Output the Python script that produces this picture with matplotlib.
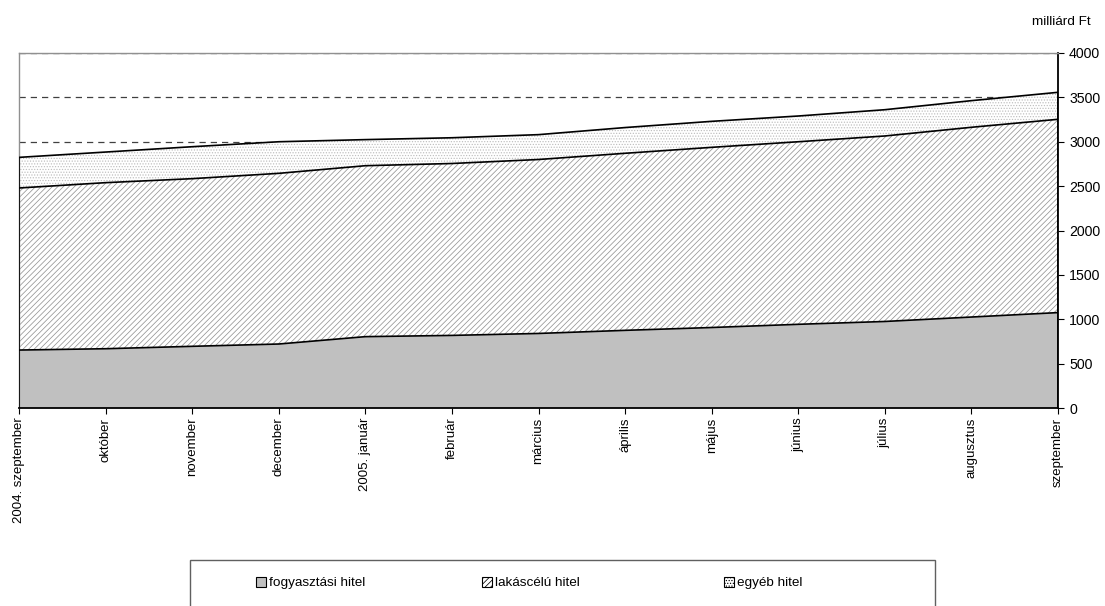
import numpy as np
import matplotlib
matplotlib.use("Agg")
import matplotlib.pyplot as plt
from matplotlib.patches import Rectangle, Patch

plt.rcParams['font.family'] = ['Liberation Sans', 'DejaVu Sans']
plt.rcParams['hatch.linewidth'] = 0.55

months = ["2004. szeptember", "október", "november", "december", "2005. január",
          "február", "március", "április", "május", "június", "július",
          "augusztus", "szeptember"]
# milliárd Ft (stacked)
fogyasztasi = [653, 668, 695, 721, 804, 818, 840, 875, 907, 943, 975, 1025, 1075]
lakascelu = [1826, 1871, 1889, 1923, 1926, 1937, 1960, 1995, 2030, 2057, 2090, 2138, 2178]
egyeb = [345, 345, 360, 356, 294, 290, 280, 290, 293, 290, 296, 300, 304]

x = np.arange(len(months))
c1 = np.array(fogyasztasi)
c2 = c1 + np.array(lakascelu)
c3 = c2 + np.array(egyeb)

HATCH_COL = "#959595"
DOT_COL = "#BEBEBE"

fig = plt.figure(figsize=(11.05, 6.06), dpi=100)
ax = fig.add_axes([19/1105, 1-408/606, (1058-19)/1105, (408-53)/606])

ax.fill_between(x, 0, c1, facecolor="#C0C0C0", linewidth=0, zorder=1)
ax.fill_between(x, c1, c2, facecolor="white", edgecolor=HATCH_COL, hatch="//////",
                linewidth=0, zorder=1)
ax.fill_between(x, c2, c3, facecolor="white", edgecolor=DOT_COL, hatch="......",
                linewidth=0, zorder=1)
for c in (c1, c2, c3):
    ax.plot(x, c, color="black", lw=1.2, zorder=3)
ax.vlines([x[0], x[-1]], 0, [c3[0], c3[-1]], color="black", lw=1.2, zorder=3)

ax.set_xlim(0, 12)
ax.set_ylim(0, 4000)
ax.set_yticks(range(0, 4001, 500))
ax.yaxis.tick_right()
ax.set_axisbelow(True)
ax.grid(axis="y", color="#404040", ls=(0, (5, 4)), lw=0.9)
ax.set_xticks(x)
ax.set_xticklabels(months, rotation=90, fontsize=9.5)
ax.tick_params(axis="y", labelsize=10.2, direction="out", length=4, color="black", pad=4)
ax.tick_params(axis="x", direction="out", length=4, color="black", pad=3)

ax.spines["top"].set_color("#909090")
ax.spines["left"].set_color("#909090")
ax.spines["right"].set_color("black")
ax.spines["bottom"].set_color("black")
for s in ax.spines.values():
    s.set_linewidth(1.0)
ax.spines["right"].set_linewidth(1.3)
ax.spines["bottom"].set_linewidth(1.3)

fig.text(1091/1105, 1-22/606, "milliárd Ft", ha="right", va="center", fontsize=9.7)

# legend box
fig.patches.append(Rectangle((190/1105, -0.02), (935-190)/1105, 0.02+1-560/606,
                             transform=fig.transFigure, facecolor="white",
                             edgecolor="#606060", lw=1.0))
handles = [Patch(facecolor="#C0C0C0", edgecolor="black", lw=0.8),
           Patch(facecolor="white", edgecolor=HATCH_COL, hatch="//////", lw=0.8),
           Patch(facecolor="white", edgecolor=DOT_COL, hatch="......", lw=0.8)]
names = ["fogyasztási hitel", "lakáscélú hitel", "egyéb hitel"]
starts = [256, 482, 724]
for h, n, sx in zip(handles, names, starts):
    lg = fig.legend([h], [n], loc="center left", bbox_to_anchor=(sx/1105, 1-583/606),
                    frameon=False, fontsize=9.7, handlelength=0.75, handleheight=0.75,
                    handletextpad=0.2, borderaxespad=0, borderpad=0)
    lg.legend_handles[0].set_edgecolor("black")

fig.savefig("out.png", dpi=100)
